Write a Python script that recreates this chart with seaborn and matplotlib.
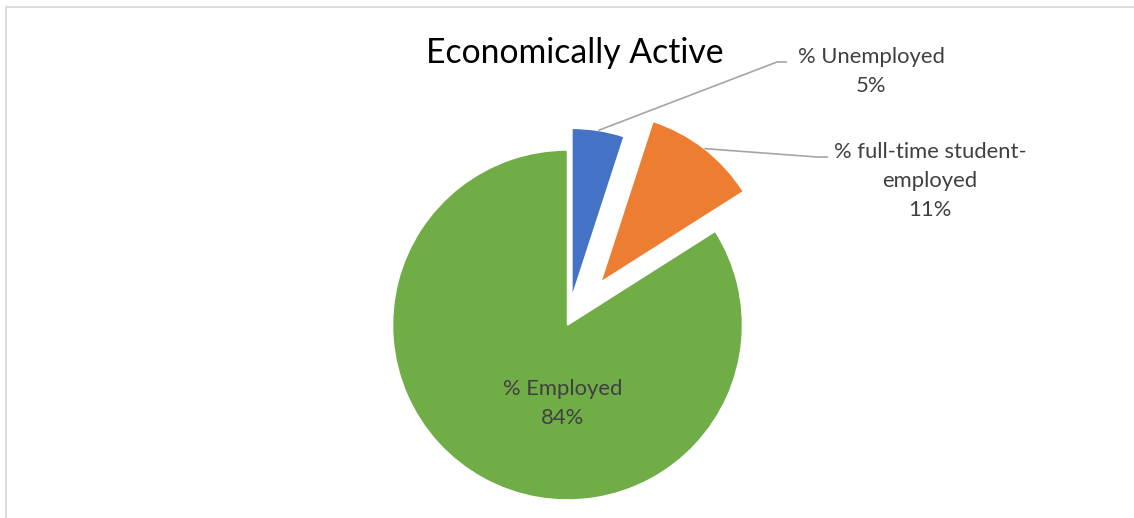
import numpy as np
import matplotlib
matplotlib.use("Agg")
import matplotlib.pyplot as plt
import seaborn as sns

# Chart data
categories = ["% Unemployed", "% full-time student-\nemployed", "% Employed"]
shares = [5, 11, 84]
slice_colors = ["#4472C4", "#ED7D31", "#70AD47"]
chart_title = "Economically Active"

# Canvas (pixel-based coordinates, y measured upward)
W, H = 1134, 518
sns.set_theme(style="white")
plt.rcParams["font.family"] = ["Lato", "DejaVu Sans"]

fig = plt.figure(figsize=(W / 100, H / 100), dpi=100)
ax = fig.add_axes([0, 0, 1, 1])

cx, cy, R = 567.5, H - 325, 175
explode_frac = [0.16, 0.31, 0.0]
wedges, _ = ax.pie(
    shares,
    colors=slice_colors,
    explode=[e * R for e in explode_frac],
    startangle=90,
    counterclock=False,
    radius=R,
    center=(cx, cy),
    wedgeprops=dict(edgecolor="white", linewidth=1.1),
)
# pulled-out slices are drawn a little smaller
for w in wedges[:2]:
    w.set_radius(169)

total = sum(shares)
pct = [f"{v / total * 100:.0f}%" for v in shares]
label_color = "#404040"
leader_color = "#A5A5A5"
fs = 15.8
ls = 1.56

def arc_mid(w):
    t = np.deg2rad((w.theta1 + w.theta2) / 2)
    return w.center[0] + w.r * np.cos(t), w.center[1] + w.r * np.sin(t)

# Outside labels with leader lines: (slice, text x, last baseline, elbow y, elbow x, end x)
outside = [
    (0, 871, 91.7, 62.0, 777, 787),
    (1, 930, 216.0, 157.0, 817, 828),
]
for i, tx, tb, ly, ex, hx in outside:
    sx, sy = arc_mid(wedges[i])
    ax.plot([sx, ex, hx], [sy, H - ly, H - ly], color=leader_color, lw=1.2,
            solid_capstyle="butt", zorder=1)
    ax.text(tx, H - tb, f"{categories[i]}\n{pct[i]}", ha="center", va="baseline",
            multialignment="center", fontsize=fs, color=label_color,
            linespacing=ls)

# Inside label
ax.text(562.7, H - 424, f"{categories[2]}\n{pct[2]}", ha="center", va="baseline",
        multialignment="center", fontsize=fs, color=label_color, linespacing=ls)

# Title
ax.text(574.5, H - 63, chart_title, ha="center", va="baseline",
        fontsize=24.3, color="black")

# Chart area frame (top and left edges)
ax.plot([5.5, 5.5], [-5, H - 6.5], color="#D9D9D9", lw=1.3, clip_on=False)
ax.plot([5.5, W + 5], [H - 6.5, H - 6.5], color="#D9D9D9", lw=1.3, clip_on=False)

ax.set_xlim(0, W)
ax.set_ylim(0, H)
ax.set_axis_off()

fig.savefig("out.png", dpi=100)
